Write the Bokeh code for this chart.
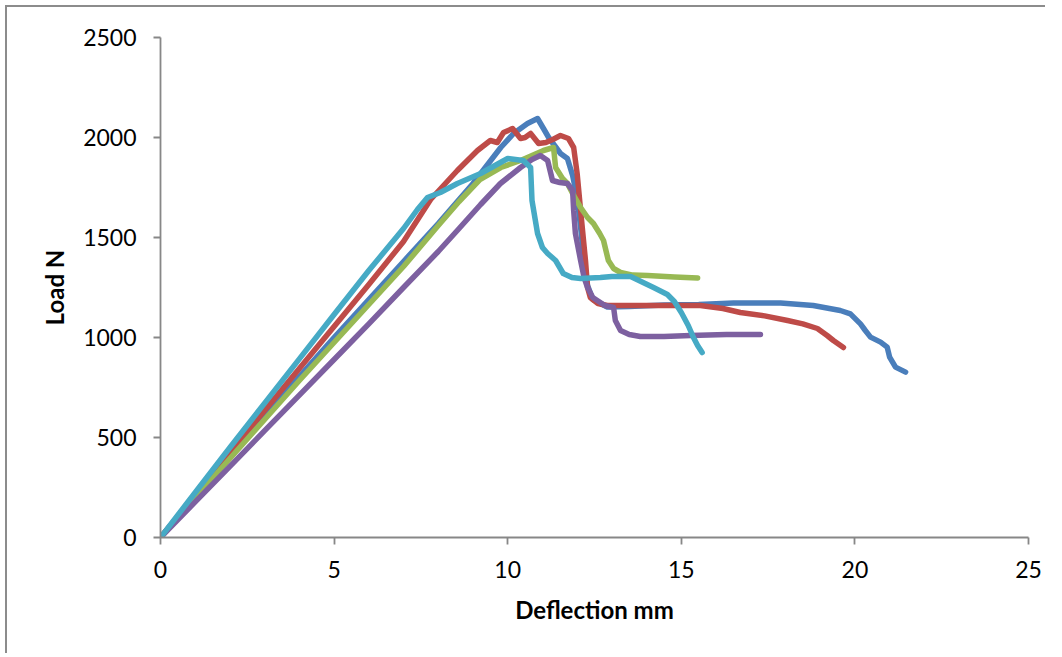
from bokeh.plotting import figure
from bokeh.models import Range1d, FixedTicker
from bokeh.embed import file_html
from bokeh.resources import INLINE

# Deflection (mm) / Load (N) for five specimens
blue_x = [0, 1, 2, 3, 4, 5, 6, 7, 8, 9, 9.8, 10.17, 10.57, 10.86, 11.03, 11.18, 11.35, 11.52, 11.72, 11.87,
          12.0, 12.1, 12.2, 12.3, 12.45, 12.87, 13.5, 14.5, 15.5, 16.5, 17.5, 17.86, 18.8, 19.58, 19.87,
          20.16, 20.3, 20.45, 20.74, 20.93, 21.0, 21.17, 21.46]
blue_y = [0, 205, 408, 610, 805, 1000, 1190, 1380, 1570, 1770, 1950, 2020, 2070, 2095, 2045, 2000, 1960, 1920, 1895, 1810,
          1700, 1550, 1380, 1260, 1190, 1152, 1155, 1162, 1165, 1172, 1172, 1172, 1160, 1135, 1118,
          1068, 1035, 1002, 977, 952, 902, 852, 827]

red_x = [0, 1, 2, 3, 4, 5, 6, 7, 7.78, 8.55, 9.13, 9.5, 9.7, 9.88, 10.14, 10.37, 10.5, 10.66, 10.89, 11.1,
         11.3, 11.52, 11.75, 11.9, 12.0, 12.1, 12.24, 12.3, 12.38, 12.6, 12.87, 14.78, 15.55, 16.2, 16.7,
         17.4, 18.06, 18.5, 18.92, 19.2, 19.38, 19.67]
red_y = [0, 212, 424, 635, 845, 1055, 1265, 1480, 1690, 1835, 1935, 1985, 1975, 2025, 2045, 1995, 2000, 2020, 1970, 1975,
         1990, 2010, 1995, 1950, 1820, 1635, 1385, 1250, 1200, 1170, 1160, 1160, 1160, 1145, 1125,
         1108, 1085, 1068, 1045, 1010, 985, 950]

green_x = [0, 1, 2, 3, 4, 5, 6, 7, 8, 8.6, 9.2, 9.8, 10.37, 10.7, 11.03, 11.32, 11.38, 11.58, 11.72, 11.9,
           12.1, 12.3, 12.47, 12.65, 12.76, 12.85, 12.9, 13.05, 13.25, 13.6, 14.03, 14.8, 15.47]
green_y = [0, 198, 395, 590, 785, 975, 1165, 1355, 1560, 1680, 1790, 1850, 1885, 1910, 1935, 1950, 1850, 1795, 1770, 1710,
           1650, 1600, 1570, 1520, 1485, 1420, 1385, 1345, 1325, 1312, 1310, 1303, 1298]

purple_x = [0, 1, 2, 3, 4, 5, 6, 7, 8, 8.6, 9.22, 9.79, 10.37, 10.7, 10.94, 11.15, 11.29, 11.5, 11.72, 11.87,
            11.9, 11.95, 12.1, 12.2, 12.3, 12.45, 12.58, 12.8, 13.05, 13.1, 13.25, 13.5, 13.82, 14.5, 15.27,
            16.3, 17.28]
purple_y = [0, 178, 356, 534, 712, 890, 1068, 1250, 1430, 1545, 1665, 1770, 1850, 1890, 1910, 1885, 1785, 1775, 1770, 1735,
            1635, 1520, 1385, 1300, 1250, 1200, 1185, 1160, 1150, 1085, 1035, 1015, 1005, 1005, 1010,
            1015, 1015]

cyan_x = [0, 1, 2, 3, 4, 5, 6, 7, 7.4, 7.69, 8.06, 8.55, 9.22, 9.79, 10.0, 10.45, 10.66, 10.7, 10.86, 11.0,
          11.15, 11.38, 11.6, 11.85, 12.1, 12.67, 13.0, 13.54, 14.2, 14.6, 14.8, 15.0, 15.2, 15.35, 15.47, 15.6]
cyan_y = [0, 225, 450, 672, 893, 1115, 1335, 1545, 1640, 1700, 1725, 1770, 1820, 1875, 1895, 1885, 1850, 1685, 1520, 1450,
          1420, 1385, 1320, 1300, 1295, 1300, 1305, 1305, 1250, 1215, 1180, 1125, 1060, 1000, 960, 925]

x_ticks = [0, 5, 10, 15, 20, 25]
y_ticks = [0, 500, 1000, 1500, 2000, 2500]
x_title = "Deflection mm"
y_title = "Load N"

series = [
    (blue_x, blue_y, "#4A7EBB"),
    (red_x, red_y, "#BE4B48"),
    (green_x, green_y, "#98B954"),
    (purple_x, purple_y, "#7D60A0"),
    (cyan_x, cyan_y, "#46AAC5"),
]

p = figure(width=1040, height=648, output_backend="svg", toolbar_location=None,
           x_range=Range1d(0, 25), y_range=Range1d(0, 2500),
           min_border_left=153, min_border_right=19, min_border_top=30, min_border_bottom=118,
           styles={"margin-left": "5px", "margin-top": "5px",
                   "border-left": "2px solid #8c8c8c", "border-top": "2px solid #8c8c8c"})
p.outline_line_color = None
p.grid.visible = False
p.background_fill_color = "white"
p.border_fill_color = "white"

for xs, ys, c in series:
    p.line(xs, ys, line_color=c, line_width=5.5, line_join="round", line_cap="round")

p.xaxis.ticker = FixedTicker(ticks=x_ticks)
p.yaxis.ticker = FixedTicker(ticks=y_ticks)
for ax in (p.xaxis[0], p.yaxis[0]):
    ax.axis_line_color = "#878787"
    ax.axis_line_width = 1.8
    ax.major_tick_line_color = "#878787"
    ax.major_tick_line_width = 1.8
    ax.major_tick_out = 7
    ax.major_tick_in = 0
    ax.minor_tick_line_color = None
    ax.major_label_text_font = "Lato"
    ax.major_label_text_font_size = "23px"
    ax.major_label_text_color = "black"
    ax.axis_label_text_font = "Lato"
    ax.axis_label_text_font_size = "24px"
    ax.axis_label_text_font_style = "bold"
    ax.axis_label_text_color = "black"

p.xaxis.axis_label = x_title
p.yaxis.axis_label = y_title
p.xaxis.major_label_standoff = 16
p.yaxis.major_label_standoff = 17
p.xaxis.axis_label_standoff = 14
p.yaxis.axis_label_standoff = 11
p.yaxis.major_label_orientation = "horizontal"

open("out.html", "w").write(file_html(p, INLINE))
